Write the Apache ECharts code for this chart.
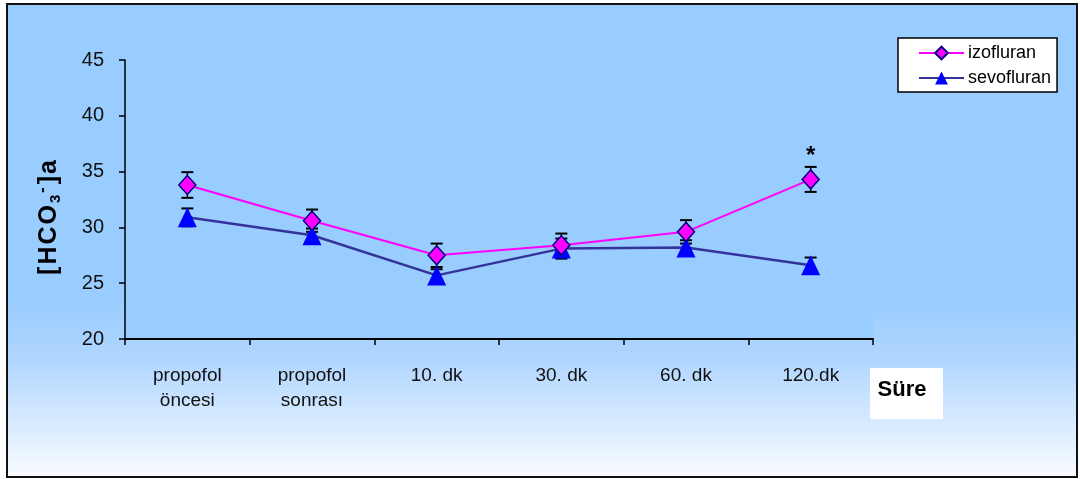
<!DOCTYPE html>
<html>
<head>
<meta charset="utf-8">
<title>[HCO3-]a — izofluran / sevofluran</title>
<script src="https://cdn.jsdelivr.net/npm/echarts@6/dist/echarts.min.js"></script>
<style>
  html, body { margin: 0; padding: 0; background: #ffffff; }
  #chart { width: 1080px; height: 479px; }
</style>
</head>
<body>
<div id="chart"></div>
<script>
// Time points
const categories = ['propofol\nöncesi', 'propofol\nsonrası', '10. dk', '30. dk', '60. dk', '120.dk'];

// Arterial bicarbonate, mean and error (±)
const izofluran = [33.8, 30.6, 27.5, 28.4, 29.6, 34.3];
const izofluranErr = [1.15, 1.0, 1.05, 1.05, 1.05, 1.12];
const sevofluran = [30.9, 29.3, 25.7, 28.1, 28.2, 26.6];
const sevofluranErr = [0.8, 0.6, 0.55, 0.9, 0.65, 0.7];

// Index of the point marked as significant
const significantIndex = 5;

// Y axis range
const yMin = 20, yMax = 45, yStep = 5;

const FONT = "'Liberation Sans', Arial, sans-serif";

const chart = echarts.init(document.getElementById('chart'), null, { renderer: 'canvas' });

function errorBarItem(params, api) {
  const x = api.value(0);
  const mean = api.value(1);
  const err = api.value(2);
  const hi = api.coord([x, mean + err]);
  const lo = api.coord([x, mean - err]);
  const half = 6;
  const style = { stroke: '#000000', lineWidth: 2 };
  return {
    type: 'group',
    children: [
      { type: 'line', shape: { x1: hi[0], y1: hi[1], x2: lo[0], y2: lo[1] }, style: { stroke: '#000000', lineWidth: 1.5 } },
      { type: 'line', shape: { x1: hi[0] - half, y1: hi[1], x2: hi[0] + half, y2: hi[1] }, style },
      { type: 'line', shape: { x1: lo[0] - half, y1: lo[1], x2: lo[0] + half, y2: lo[1] }, style }
    ]
  };
}

// Letter-spaced rich-text title for the y axis
const spaced = { fontSize: 25, fontWeight: 'bold', fontFamily: FONT, color: '#000', padding: [0, 2, 0, 0], lineHeight: 28 };
const yTitle = '{m|[}{m|H}{m|C}{m|O}{sub|3}{sup|-}{m|]}{m|a}';

const option = {
  animation: false,
  graphic: [
    {
      type: 'rect',
      z: -10,
      shape: { x: 7, y: 4, width: 1070, height: 473 },
      style: {
        fill: {
          type: 'linear', x: 0, y: 0, x2: 0, y2: 1,
          colorStops: [
            { offset: 0, color: '#99CCFF' },
            { offset: 0.62, color: '#99CCFF' },
            { offset: 0.75, color: '#B0D6FF' },
            { offset: 1, color: '#FAFCFF' }
          ]
        },
        stroke: '#111111',
        lineWidth: 2
      }
    },
    {
      type: 'group',
      children: [
        { type: 'rect', shape: { x: 870, y: 368, width: 73, height: 51 }, style: { fill: '#FFFFFF' } },
        {
          type: 'text', x: 902, y: 390,
          style: { text: 'Süre', fill: '#000', font: 'bold 22px ' + FONT, textAlign: 'center', textVerticalAlign: 'middle' }
        }
      ]
    }
  ],
  legend: {
    data: ['izofluran', 'sevofluran'],
    orient: 'vertical',
    left: 898,
    top: 38,
    padding: [6, 6, 5, 20],
    itemWidth: 45,
    itemHeight: 16,
    itemGap: 7,
    backgroundColor: '#FFFFFF',
    borderColor: '#000000',
    borderWidth: 1.5,
    borderRadius: 0,
    textStyle: { fontSize: 18, fontFamily: FONT, color: '#000', lineHeight: 16, padding: [0, 0, 0, -1] }
  },
  grid: {
    show: true,
    left: 125,
    right: 207,
    top: 60,
    bottom: 140,
    backgroundColor: '#99CCFF',
    borderWidth: 0
  },
  xAxis: {
    type: 'category',
    data: categories,
    boundaryGap: true,
    axisLine: { lineStyle: { color: '#000', width: 2 } },
    axisTick: { show: true, length: 6, inside: false, lineStyle: { color: '#000', width: 1.5 } },
    axisLabel: { fontSize: 19, fontFamily: FONT, color: '#111', lineHeight: 25, margin: 24, interval: 0 },
    splitLine: { show: false }
  },
  yAxis: {
    type: 'value',
    min: yMin,
    max: yMax,
    interval: yStep,
    axisLine: { show: true, lineStyle: { color: '#000', width: 1.5 } },
    axisTick: { show: true, length: 6, inside: false, lineStyle: { color: '#000', width: 1.5 } },
    axisLabel: { fontSize: 20, fontFamily: FONT, color: '#111', margin: 21 },
    splitLine: { show: false },
    name: yTitle,
    nameLocation: 'middle',
    nameRotate: 90,
    nameGap: 62,
    nameTextStyle: {
      fontFamily: FONT, fontWeight: 'bold', fontSize: 25, color: '#000',
      padding: [0, 34, 0, 0],
      rich: {
        m: spaced,
        sub: { fontSize: 15, fontWeight: 'bold', fontFamily: FONT, color: '#000', verticalAlign: 'bottom', padding: [0, 2, 0, 0] },
        sup: { fontSize: 16, fontWeight: 'bold', fontFamily: FONT, color: '#000', verticalAlign: 'top', padding: [0, 3, 0, 0] }
      }
    }
  },
  series: [
    {
      name: 'sevofluran-err',
      type: 'custom',
      renderItem: errorBarItem,
      data: sevofluran.map((v, i) => [i, v, sevofluranErr[i]]),
      z: 1,
      silent: true
    },
    {
      name: 'izofluran-err',
      type: 'custom',
      renderItem: errorBarItem,
      data: izofluran.map((v, i) => [i, v, izofluranErr[i]]),
      z: 1,
      silent: true
    },
    {
      name: 'sevofluran',
      type: 'line',
      data: sevofluran,
      symbol: 'triangle',
      symbolSize: [19, 20],
      lineStyle: { color: '#333399', width: 2.5 },
      itemStyle: { color: '#0000FF', borderColor: '#0000FF', borderWidth: 0 },
      z: 3
    },
    {
      name: 'izofluran',
      type: 'line',
      data: izofluran.map((v, i) => i === significantIndex
        ? { value: v, label: { show: true, formatter: '*', position: 'top', distance: 1, fontSize: 24, fontWeight: 'bold', fontFamily: FONT, color: '#000' } }
        : v),
      symbol: 'diamond',
      symbolSize: [17, 19],
      lineStyle: { color: '#FF00FF', width: 2 },
      itemStyle: { color: '#FF00FF', borderColor: '#000080', borderWidth: 1.5 },
      z: 4
    }
  ]
};

chart.setOption(option);
</script>
</body>
</html>
